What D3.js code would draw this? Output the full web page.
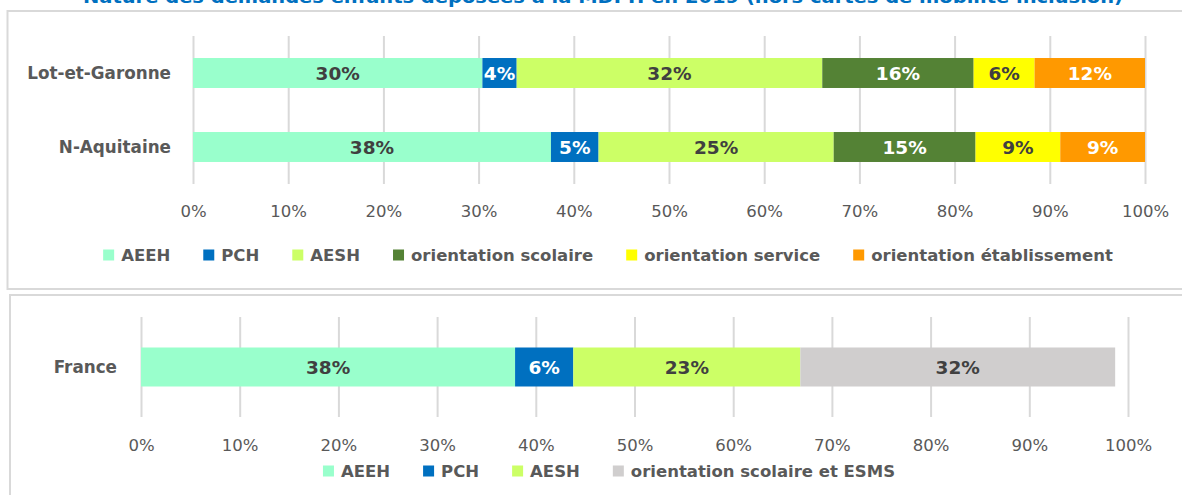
<!DOCTYPE html>
<html>
<head>
<meta charset="utf-8">
<script src="https://cdn.jsdelivr.net/npm/d3@7"></script>
<style>
  body { margin: 0; background: #fff; }
  svg { display: block; font-family: "DejaVu Sans", sans-serif; }
</style>
</head>
<body>
<div id="chart"></div>
<script>
// Nature des demandes enfants - two stacked bar panels

// data
var titleText = "Nature des demandes enfants déposées à la MDPH en 2019 (hors cartes de mobilité inclusion)";
var groups1 = ["Lot-et-Garonne", "N-Aquitaine"];
var series1 = ["AEEH", "PCH", "AESH", "orientation scolaire", "orientation service", "orientation établissement"];
var lotEtGaronne = [30.4, 3.6, 32.1, 15.9, 6.4, 11.6];
var nAquitaine = [37.6, 5.0, 24.7, 14.9, 8.9, 8.9];

var groups2 = ["France"];
var series2 = ["AEEH", "PCH", "AESH", "orientation scolaire et ESMS"];
var france = [37.9, 5.9, 23.0, 31.9];

var tickValues = [0, 10, 20, 30, 40, 50, 60, 70, 80, 90, 100];

// styles
var colors1 = ["#99FFCC", "#0070C0", "#CCFF66", "#548235", "#FFFF00", "#FF9900"];
var colors2 = ["#99FFCC", "#0070C0", "#CCFF66", "#D0CECE"];
var darkSeries = ["PCH", "orientation scolaire", "orientation établissement"];
var gray = "#595959";

var svgWidth = 1182, svgHeight = 495;

var svg = d3.select("#chart")
    .append("svg")
    .attr("width", svgWidth)
    .attr("height", svgHeight);

// panel frames
svg.append("rect")
    .attr("x", 7.5).attr("y", 11)
    .attr("width", 1200).attr("height", 278)
    .attr("fill", "none")
    .attr("stroke", "#d9d9d9")
    .attr("stroke-width", 2);

svg.append("rect")
    .attr("x", 10).attr("y", 295)
    .attr("width", 1200).attr("height", 250)
    .attr("fill", "none")
    .attr("stroke", "#d9d9d9")
    .attr("stroke-width", 2);

// title (its top is cut off in the original too)
svg.append("text")
    .attr("x", 603)
    .attr("y", 3)
    .attr("text-anchor", "middle")
    .attr("font-size", "18px")
    .attr("font-weight", "bold")
    .attr("fill", "#0070C0")
    .attr("textLength", 1040)
    .attr("lengthAdjust", "spacingAndGlyphs")
    .text(titleText);

function buildPanel(opts) {
    var rows = opts.groups.map(function(g, i) {
        var row = {group: g};
        opts.series.forEach(function(s, j) { row[s] = opts.values[i][j]; });
        return row;
    });

    var xScale = d3.scaleLinear()
        .domain([0, 100])
        .range([opts.x0, opts.x1]);

    var yScale = d3.scaleBand()
        .domain(opts.groups)
        .range([opts.gridTop, opts.gridBottom])
        .paddingInner(opts.pad)
        .paddingOuter(opts.pad / 2);

    var g = svg.append("g");

    // vertical gridlines
    var grid = g.append("g")
        .attr("transform", "translate(0," + opts.gridTop + ")")
        .call(d3.axisTop(xScale)
            .tickValues(tickValues)
            .tickSize(-(opts.gridBottom - opts.gridTop))
            .tickFormat(""));
    grid.select(".domain").remove();
    grid.selectAll("line")
        .attr("stroke", "#d9d9d9")
        .attr("stroke-width", 2);

    // tick labels
    var axis = g.append("g")
        .attr("transform", "translate(0," + opts.tickY + ")")
        .call(d3.axisBottom(xScale)
            .tickValues(tickValues)
            .tickSize(0)
            .tickPadding(0)
            .tickFormat(function(d) { return d + "%"; }));
    axis.select(".domain").remove();
    axis.selectAll("text")
        .attr("y", 0)
        .attr("dy", "0.36em")
        .attr("font-family", "DejaVu Sans, sans-serif")
        .attr("font-size", "16.5px")
        .attr("fill", gray);

    // category labels
    g.selectAll(".cat")
        .data(opts.groups)
        .enter()
        .append("text")
        .attr("class", "cat")
        .attr("x", opts.x0 - opts.labelGap)
        .attr("y", d => yScale(d) + yScale.bandwidth() / 2)
        .attr("dy", "0.36em")
        .attr("text-anchor", "end")
        .attr("font-size", "16.8px")
        .attr("font-weight", "bold")
        .attr("fill", gray)
        .text(d => d);

    // stacked bars
    var stacked = d3.stack().keys(opts.series)(rows);

    var layers = g.selectAll(".layer")
        .data(stacked)
        .enter()
        .append("g")
        .attr("class", "layer")
        .attr("fill", (d, i) => opts.colors[i]);

    layers.selectAll("rect")
        .data(d => d.map(p => ({key: d.key, group: p.data.group, v0: p[0], v1: p[1]})))
        .enter()
        .append("rect")
        .attr("x", d => xScale(d.v0))
        .attr("y", d => yScale(d.group))
        .attr("width", d => xScale(d.v1) - xScale(d.v0))
        .attr("height", yScale.bandwidth());

    layers.selectAll("text")
        .data(d => d.map(p => ({key: d.key, group: p.data.group, v0: p[0], v1: p[1]})))
        .enter()
        .append("text")
        .attr("x", d => (xScale(d.v0) + xScale(d.v1)) / 2)
        .attr("y", d => yScale(d.group) + yScale.bandwidth() / 2)
        .attr("dy", "0.36em")
        .attr("text-anchor", "middle")
        .attr("font-size", "18.5px")
        .attr("font-weight", "bold")
        .attr("fill", d => darkSeries.indexOf(d.key) >= 0 ? "#ffffff" : "#404040")
        .text(d => Math.round(d.v1 - d.v0) + "%");

    // legend, laid out from measured text widths and centred
    var box = 11, boxGap = 7, itemGap = 33;
    var legend = g.append("g")
        .attr("transform", "translate(0," + opts.legendY + ")");
    var items = legend.selectAll(".item")
        .data(opts.series)
        .enter()
        .append("g")
        .attr("class", "item");
    items.append("rect")
        .attr("y", -box / 2)
        .attr("width", box)
        .attr("height", box)
        .attr("fill", (d, i) => opts.colors[i]);
    items.append("text")
        .attr("x", box + boxGap)
        .attr("dy", "0.36em")
        .attr("font-size", "16.5px")
        .attr("font-weight", "bold")
        .attr("fill", gray)
        .text(d => d);

    var widths = [];
    items.select("text").each(function() { widths.push(this.getComputedTextLength()); });
    var total = d3.sum(widths) + widths.length * (box + boxGap) + (widths.length - 1) * itemGap;
    var cursor = opts.legendCenter - total / 2;
    items.attr("transform", function(d, i) {
        var t = "translate(" + cursor + ",0)";
        cursor += box + boxGap + widths[i] + itemGap;
        return t;
    });
}

buildPanel({
    groups: groups1, series: series1, colors: colors1,
    values: [lotEtGaronne, nAquitaine],
    x0: 193, x1: 1145, gridTop: 36, gridBottom: 184, pad: 0.595,
    tickY: 211, legendY: 255, legendCenter: 608, labelGap: 22
});

buildPanel({
    groups: groups2, series: series2, colors: colors2,
    values: [france],
    x0: 141, x1: 1128, gridTop: 317, gridBottom: 417, pad: 0.61,
    tickY: 445, legendY: 471, legendCenter: 609, labelGap: 24
});
</script>
</body>
</html>
